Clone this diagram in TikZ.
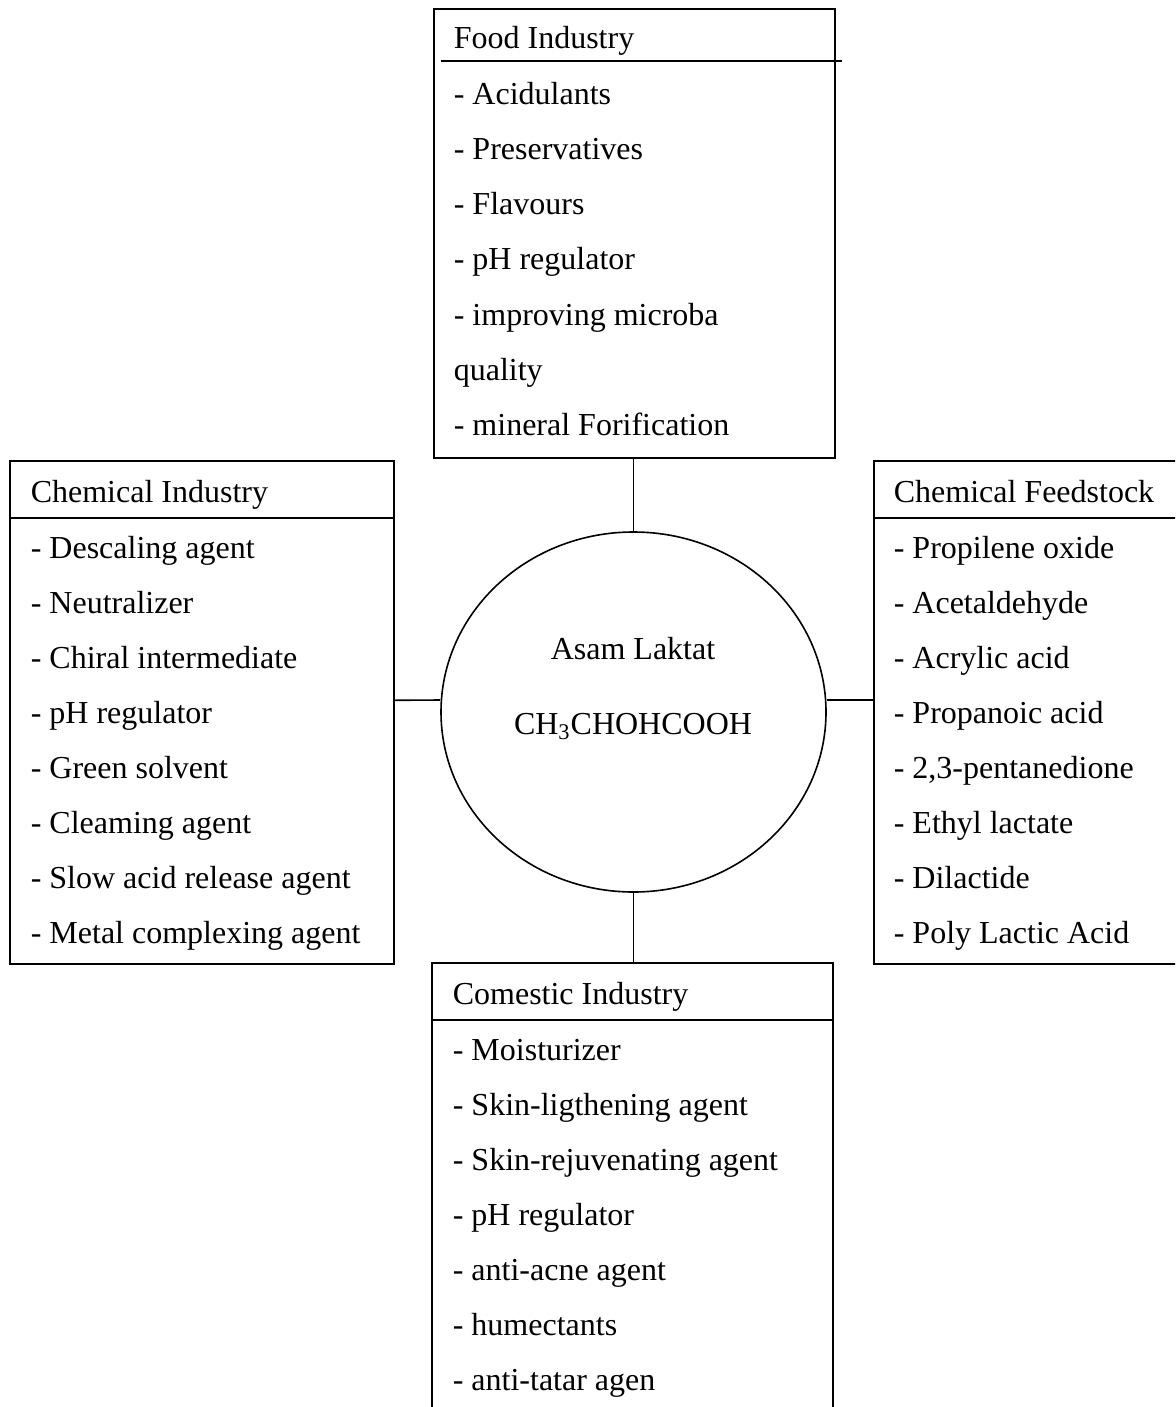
\documentclass[tikz,border=0pt]{standalone}
\usepackage{fontspec}
\setmainfont{Liberation Serif}
\usetikzlibrary{shapes.geometric}

\begin{document}
\begin{tikzpicture}[
  x=0.5pt, y=-0.5pt,
  font=\fontsize{16}{19}\selectfont,
  line width=0.8pt,
  box/.style={draw, minimum width=200.5pt, minimum height=224.5pt,
    anchor=north west, inner sep=0pt},
  txt/.style={anchor=base west, inner sep=0pt},
  ttl/.style={anchor=base, inner sep=0pt},
]
  \clip (0,0) rectangle (1175,1407);

  % the four boxes
  \node[box] (food) at (433,8) {};
  \node[box, minimum width=192pt, minimum height=251.5pt] (chem) at (9,460) {};
  \node[box, minimum height=251.5pt] (feed) at (873,460) {};
  \node[box] (cosm) at (431,962) {};

  \draw (food.north west) ++(8,53) -- ++(401,0);
  \draw (chem.north west) ++(0,58) coordinate (chemhd) -- (chemhd -| chem.east);
  \draw (feed.north west) ++(0,58) coordinate (feedhd) -- (feedhd -| feed.east);
  \draw (cosm.north west) ++(0,58) coordinate (cosmhd) -- (cosmhd -| cosm.east);

  \node[txt] (foodt) at (453,49) {Food Industry};
  \node[txt] (chemt) at (30,502) {Chemical Industry};
  \node[txt] (feedt) at (893,502) {Chemical Feedstock};
  \node[txt] (cosmt) at (452,1004) {Comestic Industry};

  \foreach \t [count=\i] in {- Acidulants, - Preservatives, - Flavours,
      - pH regulator, - improving microba, quality, - mineral Forification}
    \node[txt] (food\i) at (453,50+55*\i) {\t};
  \foreach \t [count=\i] in {- Descaling agent, - Neutralizer,
      - Chiral intermediate, - pH regulator, - Green solvent, - Cleaming agent,
      - Slow acid release agent, - Metal complexing agent}
    \node[txt] (chem\i) at (30,503+55*\i) {\t};
  \foreach \t [count=\i] in {- Propilene oxide, - Acetaldehyde, - Acrylic acid,
      - Propanoic acid, {- 2,3-pentanedione}, - Ethyl lactate, - Dilactide,
      - Poly Lactic Acid}
    \node[txt] (feed\i) at (893,503+55*\i) {\t};
  \foreach \t [count=\i] in {- Moisturizer, - Skin-ligthening agent,
      - Skin-rejuvenating agent, - pH regulator, - anti-acne agent,
      - humectants, - anti-tatar agen}
    \node[txt] (cosm\i) at (452,1005+55*\i) {\t};

  % centre
  \node[draw, ellipse, minimum width=192.5pt, minimum height=180pt,
    inner sep=0pt] (acid) at (633.5,712) {};
  \node[ttl] (name) at (633,659) {Asam Laktat};
  \node[ttl] (formula) at (633,734) {CH\textsubscript{3}CHOHCOOH};

  \draw (acid.north |- food.south) -- (acid.north);
  \draw (acid.south) -- (acid.south |- cosm.north);
  \draw ([yshift=6pt]chem.east) -- ([yshift=6pt]acid.west);
  \draw ([yshift=6pt]acid.east) -- ([yshift=6pt]acid.east -| feed.west);
\end{tikzpicture}
\end{document}
